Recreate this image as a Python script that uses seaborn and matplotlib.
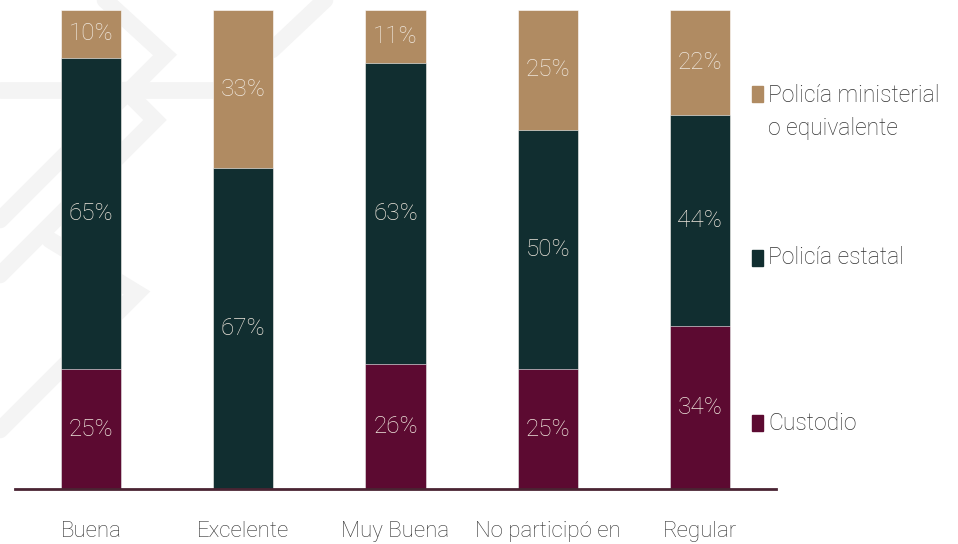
import numpy as np
import pandas as pd
import matplotlib.pyplot as plt
import seaborn as sns
from matplotlib.patches import Rectangle
from matplotlib.lines import Line2D

categorias = ['Buena', 'Excelente', 'Muy Buena', 'No participó en', 'Regular']
custodio = [25, 0, 26, 25, 34]
estatal = [65, 67, 63, 50, 44]
ministerial = [10, 33, 11, 25, 22]
series = ['Custodio', 'Policía estatal', 'Policía ministerial\no equivalente']
colores = ['#5c0a31', '#112e30', '#b08b62']

sns.set_theme(style='white')
plt.rcParams['font.family'] = ['Roboto', 'DejaVu Sans']

W, H = 958, 544
fig = plt.figure(figsize=(W / 100, H / 100), dpi=100)

# faint watermark in background
marca = [
    [(105, 0), (165, 55), (0, 220)],
    [(125, 90), (155, 120), (0, 275)],
    [(50, 240), (137, 293), (0, 430)],
    [(0, 90), (215, 90)],
    [(325, 0), (272, 50)],
]
for pts in marca:
    xs = [p[0] / W for p in pts]
    ys = [1 - p[1] / H for p in pts]
    fig.add_artist(Line2D(xs, ys, color='#f4f4f4', lw=12, solid_joinstyle='miter', zorder=0))

ax = fig.add_axes([15 / W, 55 / H, 761 / W, 479 / H])
ax.patch.set_alpha(0)

df = pd.DataFrame({'categoria': categorias, 'Custodio': custodio,
                   'Policía estatal': estatal, 'Policía ministerial\no equivalente': ministerial})
capas = df[series].cumsum(axis=1)

# draw cumulative layers from top to bottom
for serie, color in zip(series[::-1], colores[::-1]):
    sns.barplot(x=df['categoria'], y=capas[serie], color=color, saturation=1,
                width=0.395, edgecolor='white', linewidth=0.4, ax=ax, order=categorias)

for i, cat in enumerate(categorias):
    base = 0
    for serie in series:
        v = df.loc[i, serie]
        if v > 0:
            ax.text(i, base + v / 2, f'{v}%', ha='center', va='center',
                    color='#efe7dd', fontsize=17.5, fontweight='light')
        base += v

ax.set_xlim(-0.5, 4.5)
ax.set_ylim(0, 100)
ax.set_xlabel('')
ax.set_ylabel('')
ax.set_yticks([])
for s in ['top', 'left', 'right']:
    ax.spines[s].set_visible(False)
ax.spines['bottom'].set_color('#4a2433')
ax.spines['bottom'].set_linewidth(2)
ax.tick_params(axis='x', length=0, pad=23, labelsize=16, labelcolor='#333333')
for t in ax.get_xticklabels():
    t.set_fontweight('light')

# legend
leyenda = [(series[2], colores[2], 112, 94), (series[1], colores[1], 258, 258),
           (series[0], colores[0], 423, 423)]
for texto, color, yc, ym in leyenda:
    fig.add_artist(Rectangle((752 / W, 1 - (ym + 8) / H), 11 / W, 16 / H,
                             transform=fig.transFigure, color=color))
    fig.text(768 / W, 1 - yc / H, texto, ha='left', va='center',
             fontsize=16.5, color='#333333', fontweight='light', linespacing=1.6)

fig.savefig('out.png', dpi=100)
